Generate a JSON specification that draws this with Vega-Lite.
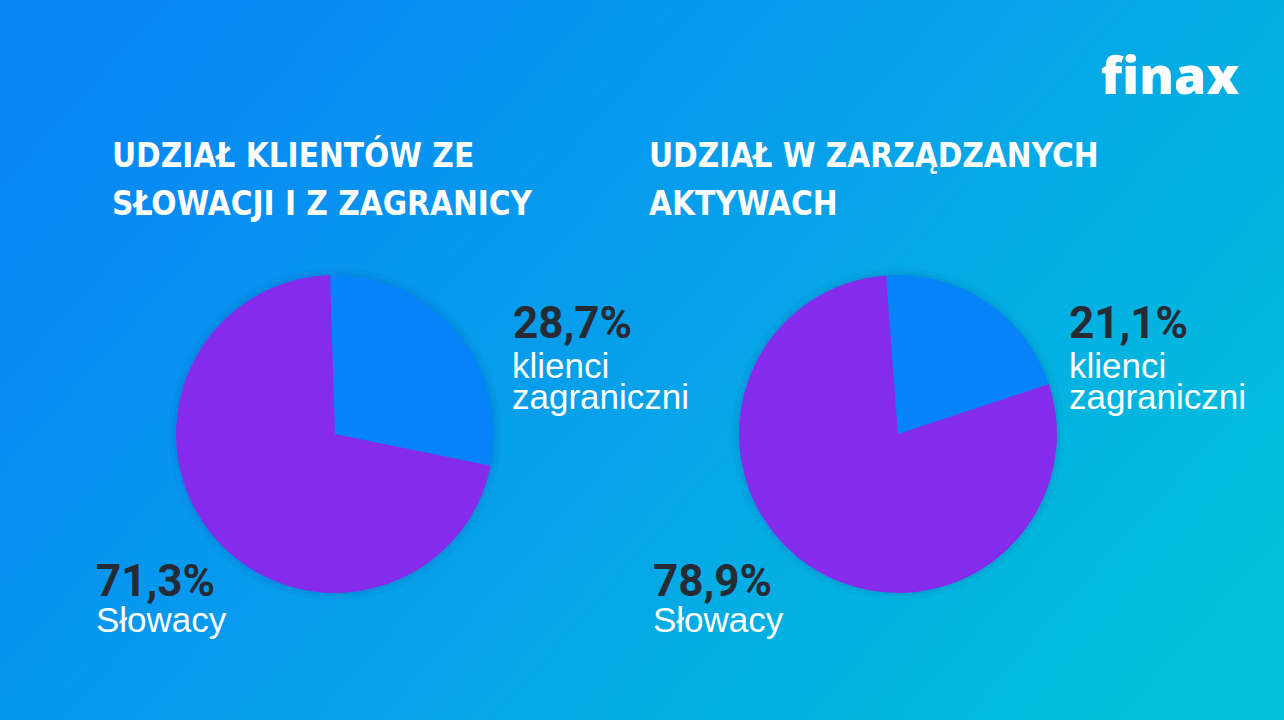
{
  "$schema": "https://vega.github.io/schema/vega-lite/v6.json",
  "width": 1284,
  "height": 720,
  "autosize": {"type": "fit", "contains": "padding"},
  "padding": 0,
  "background": "#0a98ee",
  "view": {
    "stroke": null,
    "fill": {
      "gradient": "linear",
      "x1": 0, "y1": 0.25, "x2": 1, "y2": 0.75,
      "stops": [
        {"offset": 0, "color": "#0886f6"},
        {"offset": 0.5, "color": "#06a1ea"},
        {"offset": 1, "color": "#00c0da"}
      ]
    }
  },
  "config": {
    "locale": {"number": {"decimal": ",", "thousands": " ", "grouping": [3], "currency": ["", " zł"]}},
    "axis": {"disable": true},
    "scale": {"pointPadding": 0}
  },
  "datasets": {
    "charts": [
      {"chart": "klienci"},
      {"chart": "aktywa"}
    ],
    "titles": [
      {"chart": "klienci", "line": 1, "title": "UDZIAŁ KLIENTÓW ZE"},
      {"chart": "klienci", "line": 2, "title": "SŁOWACJI I Z ZAGRANICY"},
      {"chart": "aktywa", "line": 1, "title": "UDZIAŁ W ZARZĄDZANYCH"},
      {"chart": "aktywa", "line": 2, "title": "AKTYWACH"}
    ],
    "slices": [
      {"chart": "klienci", "segment": "zagraniczni", "share": 0.287, "label": "klienci zagraniczni"},
      {"chart": "klienci", "segment": "Słowacy", "share": 0.713, "label": "Słowacy"},
      {"chart": "aktywa", "segment": "zagraniczni", "share": 0.211, "label": "klienci zagraniczni"},
      {"chart": "aktywa", "segment": "Słowacy", "share": 0.789, "label": "Słowacy"}
    ],
    "brand": [{"name": "finax"}]
  },
  "resolve": {"scale": {"x": "independent", "y": "independent", "theta": "independent"}},
  "layer": [
    {
      "data": {"name": "charts"},
      "mark": {"type": "arc", "radius": 166, "color": "#002a66", "opacity": 0.04},
      "encoding": {
        "x": {"field": "chart", "type": "nominal", "scale": {"type": "point", "padding": 0, "domain": ["klienci", "aktywa"], "range": [335, 898]}, "axis": null},
        "y": {"field": "chart", "type": "nominal", "scale": {"type": "point", "padding": 0, "domain": ["klienci", "aktywa"], "range": [434, 434]}, "axis": null}
      }
    },
    {
      "data": {"name": "charts"},
      "mark": {"type": "arc", "radius": 162, "color": "#002a66", "opacity": 0.06},
      "encoding": {
        "x": {"field": "chart", "type": "nominal", "scale": {"type": "point", "padding": 0, "domain": ["klienci", "aktywa"], "range": [335, 898]}, "axis": null},
        "y": {"field": "chart", "type": "nominal", "scale": {"type": "point", "padding": 0, "domain": ["klienci", "aktywa"], "range": [434, 434]}, "axis": null}
      }
    },
    {
      "data": {"name": "slices"},
      "transform": [{"filter": "datum.chart === 'klienci'"}],
      "mark": {"type": "arc", "radius": 159},
      "encoding": {
        "x": {"field": "chart", "type": "nominal", "scale": {"type": "point", "padding": 0, "domain": ["klienci", "aktywa"], "range": [335, 898]}, "axis": null},
        "y": {"field": "chart", "type": "nominal", "scale": {"type": "point", "padding": 0, "domain": ["klienci", "aktywa"], "range": [434, 434]}, "axis": null},
        "theta": {"field": "share", "type": "quantitative", "stack": true, "scale": {"domain": [0, 1], "range": [-0.031, 6.252]}},
        "color": {"field": "segment", "type": "nominal", "scale": {"domain": ["zagraniczni", "Słowacy"], "range": ["#0583f7", "#852cec"]}, "legend": null},
        "order": {"field": "segment", "sort": "descending"}
      }
    },
    {
      "data": {"name": "slices"},
      "transform": [{"filter": "datum.chart === 'aktywa'"}],
      "mark": {"type": "arc", "radius": 159},
      "encoding": {
        "x": {"field": "chart", "type": "nominal", "scale": {"type": "point", "padding": 0, "domain": ["klienci", "aktywa"], "range": [335, 898]}, "axis": null},
        "y": {"field": "chart", "type": "nominal", "scale": {"type": "point", "padding": 0, "domain": ["klienci", "aktywa"], "range": [434, 434]}, "axis": null},
        "theta": {"field": "share", "type": "quantitative", "stack": true, "scale": {"domain": [0, 1], "range": [-0.075, 6.208]}},
        "color": {"field": "segment", "type": "nominal", "scale": {"domain": ["zagraniczni", "Słowacy"], "range": ["#0583f7", "#852cec"]}, "legend": null},
        "order": {"field": "segment", "sort": "descending"}
      }
    },
    {
      "data": {"name": "titles"},
      "mark": {"type": "text", "align": "left", "baseline": "alphabetic", "font": "DejaVu Sans Condensed", "fontWeight": "bold", "fontSize": 33, "letterSpacing": -3, "color": "#ffffff"},
      "encoding": {
        "x": {"field": "chart", "type": "nominal", "scale": {"type": "point", "padding": 0, "domain": ["klienci", "aktywa"], "range": [112, 649]}, "axis": null},
        "y": {"field": "line", "type": "ordinal", "scale": {"type": "point", "padding": 0, "domain": [1, 2], "range": [167, 215]}, "axis": null},
        "text": {"field": "title"}
      }
    },
    {
      "data": {"name": "slices"},
      "transform": [{"filter": "datum.segment === 'zagraniczni'"}],
      "mark": {"type": "text", "align": "left", "baseline": "alphabetic", "font": "Roboto", "fontWeight": "bold", "fontSize": 44, "color": "#262a33"},
      "encoding": {
        "x": {"field": "chart", "type": "nominal", "scale": {"type": "point", "padding": 0, "domain": ["klienci", "aktywa"], "range": [513, 1069]}, "axis": null},
        "y": {"field": "segment", "type": "nominal", "scale": {"type": "point", "padding": 0, "domain": ["zagraniczni", "Słowacy"], "range": [338, 596]}, "axis": null},
        "text": {"field": "share", "type": "quantitative", "format": ".1%"}
      }
    },
    {
      "data": {"name": "slices"},
      "transform": [{"filter": "datum.segment === 'Słowacy'"}],
      "mark": {"type": "text", "align": "left", "baseline": "alphabetic", "font": "Roboto", "fontWeight": "bold", "fontSize": 44, "color": "#262a33"},
      "encoding": {
        "x": {"field": "chart", "type": "nominal", "scale": {"type": "point", "padding": 0, "domain": ["klienci", "aktywa"], "range": [96, 653]}, "axis": null},
        "y": {"field": "segment", "type": "nominal", "scale": {"type": "point", "padding": 0, "domain": ["zagraniczni", "Słowacy"], "range": [338, 596]}, "axis": null},
        "text": {"field": "share", "type": "quantitative", "format": ".1%"}
      }
    },
    {
      "data": {"name": "slices"},
      "transform": [{"filter": "datum.segment === 'zagraniczni'"}],
      "mark": {"type": "text", "align": "left", "baseline": "alphabetic", "font": "Liberation Sans", "fontSize": 35, "lineHeight": 31, "lineBreak": " ", "dy": 40, "color": "#ffffff"},
      "encoding": {
        "x": {"field": "chart", "type": "nominal", "scale": {"type": "point", "padding": 0, "domain": ["klienci", "aktywa"], "range": [512, 1069]}, "axis": null},
        "y": {"field": "segment", "type": "nominal", "scale": {"type": "point", "padding": 0, "domain": ["zagraniczni", "Słowacy"], "range": [338, 596]}, "axis": null},
        "text": {"field": "label"}
      }
    },
    {
      "data": {"name": "slices"},
      "transform": [{"filter": "datum.segment === 'Słowacy'"}],
      "mark": {"type": "text", "align": "left", "baseline": "alphabetic", "font": "Liberation Sans", "fontSize": 35, "lineHeight": 31, "lineBreak": " ", "dy": 36, "color": "#ffffff"},
      "encoding": {
        "x": {"field": "chart", "type": "nominal", "scale": {"type": "point", "padding": 0, "domain": ["klienci", "aktywa"], "range": [96, 653]}, "axis": null},
        "y": {"field": "segment", "type": "nominal", "scale": {"type": "point", "padding": 0, "domain": ["zagraniczni", "Słowacy"], "range": [338, 596]}, "axis": null},
        "text": {"field": "label"}
      }
    },
    {
      "data": {"name": "brand"},
      "mark": {"type": "text", "align": "center", "baseline": "alphabetic", "font": "Open Sans", "fontWeight": 800, "fontSize": 52, "letterSpacing": -1, "color": "#ffffff"},
      "encoding": {
        "x": {"field": "name", "type": "nominal", "scale": {"type": "point", "padding": 0, "domain": ["finax"], "range": [1170, 1170]}, "axis": null},
        "y": {"field": "name", "type": "nominal", "scale": {"type": "point", "padding": 0, "domain": ["finax"], "range": [94, 94]}, "axis": null},
        "text": {"field": "name"}
      }
    }
  ]
}
